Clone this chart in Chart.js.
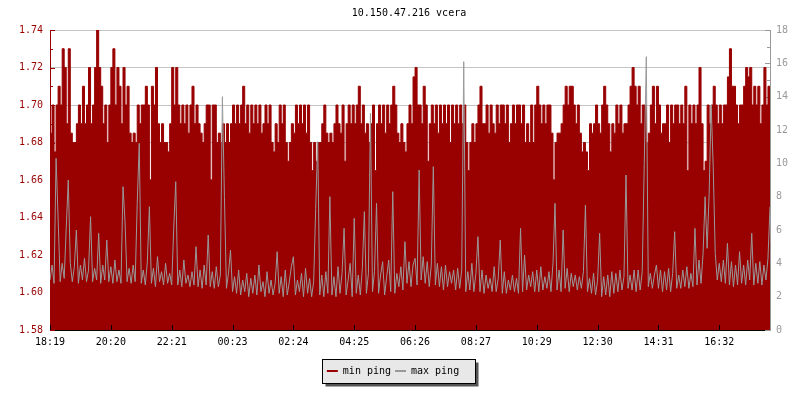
<!DOCTYPE html>
<html>
<head>
<meta charset="utf-8">
<title>10.150.47.216 vcera</title>
<script src="https://cdn.jsdelivr.net/npm/chart.js@4/dist/chart.umd.min.js"></script>
<style>
    html, body { margin: 0; padding: 0; background: #fff; }
    #chart { display: block; }
</style>
</head>
<body>
<canvas id="chart" width="800" height="400"></canvas>
<script>
// x tick labels, one every TICK_EVERY samples (about 4 min per sample)
const tickLabels = ["18:19", "20:20", "22:21", "00:23", "02:24", "04:25",
    "06:26", "08:27", "10:29", "12:30", "14:31", "16:32"];
const TICK_EVERY = 30;

// min ping, left axis
const minPing = [
    1.685, 1.70, 1.675, 1.70, 1.71, 1.70, 1.73, 1.72, 1.69, 1.73,
    1.685, 1.68, 1.68, 1.69, 1.70, 1.69, 1.71, 1.69, 1.70, 1.72,
    1.69, 1.70, 1.72, 1.74, 1.72, 1.71, 1.69, 1.70, 1.68, 1.70,
    1.72, 1.73, 1.70, 1.72, 1.71, 1.69, 1.72, 1.70, 1.71, 1.685,
    1.68, 1.685, 1.68, 1.70, 1.69, 1.70, 1.70, 1.71, 1.70, 1.66,
    1.71, 1.70, 1.72, 1.69, 1.68, 1.69, 1.68, 1.68, 1.675, 1.69,
    1.72, 1.70, 1.72, 1.70, 1.69, 1.70, 1.69, 1.70, 1.685, 1.70,
    1.71, 1.69, 1.70, 1.69, 1.685, 1.68, 1.69, 1.70, 1.70, 1.66,
    1.70, 1.70, 1.68, 1.685, 1.68, 1.69, 1.68, 1.69, 1.68, 1.69,
    1.70, 1.69, 1.70, 1.69, 1.70, 1.71, 1.69, 1.70, 1.685, 1.70,
    1.69, 1.70, 1.69, 1.70, 1.685, 1.69, 1.70, 1.69, 1.70, 1.68,
    1.675, 1.69, 1.68, 1.70, 1.69, 1.70, 1.68, 1.67, 1.68, 1.69,
    1.685, 1.70, 1.69, 1.70, 1.69, 1.70, 1.685, 1.70, 1.68, 1.665,
    1.68, 1.67, 1.68, 1.68, 1.69, 1.70, 1.685, 1.68, 1.685, 1.68,
    1.69, 1.70, 1.69, 1.685, 1.70, 1.67, 1.69, 1.70, 1.69, 1.70,
    1.69, 1.70, 1.71, 1.69, 1.70, 1.685, 1.69, 1.68, 1.69, 1.70,
    1.665, 1.69, 1.70, 1.69, 1.70, 1.685, 1.70, 1.69, 1.70, 1.71,
    1.70, 1.685, 1.68, 1.69, 1.68, 1.675, 1.69, 1.70, 1.69, 1.715,
    1.72, 1.70, 1.70, 1.69, 1.71, 1.70, 1.67, 1.69, 1.70, 1.69,
    1.70, 1.685, 1.70, 1.69, 1.70, 1.69, 1.70, 1.68, 1.70, 1.69,
    1.70, 1.69, 1.70, 1.69, 1.70, 1.68, 1.665, 1.68, 1.69, 1.68,
    1.69, 1.70, 1.71, 1.69, 1.69, 1.70, 1.685, 1.70, 1.69, 1.685,
    1.70, 1.69, 1.70, 1.70, 1.69, 1.70, 1.68, 1.69, 1.70, 1.69,
    1.70, 1.70, 1.69, 1.70, 1.68, 1.69, 1.68, 1.70, 1.68, 1.70,
    1.71, 1.70, 1.69, 1.70, 1.69, 1.70, 1.70, 1.685, 1.66, 1.68,
    1.685, 1.685, 1.69, 1.70, 1.71, 1.70, 1.71, 1.71, 1.70, 1.69,
    1.70, 1.685, 1.675, 1.68, 1.675, 1.665, 1.69, 1.685, 1.69, 1.70,
    1.69, 1.685, 1.70, 1.71, 1.70, 1.69, 1.675, 1.69, 1.685, 1.70,
    1.69, 1.70, 1.685, 1.69, 1.69, 1.70, 1.71, 1.72, 1.71, 1.70,
    1.71, 1.69, 1.70, 1.70, 1.68, 1.685, 1.70, 1.71, 1.69, 1.71,
    1.70, 1.685, 1.69, 1.69, 1.70, 1.68, 1.70, 1.69, 1.70, 1.70,
    1.69, 1.70, 1.69, 1.71, 1.665, 1.70, 1.69, 1.70, 1.69, 1.70,
    1.72, 1.69, 1.665, 1.67, 1.70, 1.69, 1.70, 1.71, 1.70, 1.69,
    1.70, 1.69, 1.70, 1.70, 1.715, 1.73, 1.71, 1.71, 1.70, 1.69,
    1.70, 1.70, 1.71, 1.72, 1.715, 1.72, 1.70, 1.71, 1.70, 1.71,
    1.69, 1.70, 1.72, 1.70, 1.71, 1.70
];

// max ping, right axis
const maxPing = [
    3.0, 3.9, 2.8, 10.3, 6.7, 2.9, 4.0, 3.1, 6.1, 9.0,
    4.0, 2.9, 3.8, 6.0, 2.8, 3.9, 3.0, 4.3, 2.9, 3.6,
    6.8, 2.9, 3.7, 3.0, 5.8, 2.8, 3.9, 3.0, 5.4, 2.9,
    3.8, 2.8, 4.2, 2.9, 3.6, 2.8, 8.6, 6.5, 2.9, 3.7,
    2.8, 3.9, 2.9, 7.6, 11.2, 2.8, 3.6, 2.7, 4.1, 7.4,
    2.8, 3.7, 2.6, 4.4, 2.9, 3.5, 2.7, 4.0, 2.8, 3.4,
    2.7, 6.1, 8.9, 2.7, 3.6, 2.6, 4.2, 2.8, 3.3, 2.6,
    3.5, 2.7, 5.0, 2.6, 3.6, 2.5, 3.9, 2.7, 5.7, 2.6,
    3.5, 2.5, 3.8, 2.6, 3.3, 14.0, 8.0, 2.5, 3.4, 4.8,
    2.3, 3.2, 2.2, 3.6, 2.1, 3.0, 2.3, 3.4, 2.0, 3.1,
    2.2, 3.3, 2.1, 3.9, 2.3, 2.9, 2.0, 3.5, 2.2, 3.0,
    2.1, 2.8, 4.7, 2.2, 3.2, 2.0, 3.6, 2.1, 2.9, 3.8,
    4.4, 2.1, 3.0, 2.3, 3.4, 2.0, 3.7, 2.2, 3.1, 2.0,
    2.9, 7.3, 11.3, 2.1, 3.3, 2.0, 3.5, 2.2, 8.0, 2.1,
    3.2, 2.0, 3.8, 2.2, 3.4, 6.1, 2.1, 3.0, 4.0, 2.0,
    6.7, 2.2, 3.3, 2.1, 3.7, 7.1, 2.2, 3.4, 13.0, 2.3,
    3.5, 7.6, 2.2, 3.3, 4.1, 2.1, 3.2, 4.2, 2.3, 8.3,
    2.2, 3.4, 2.6, 3.8, 2.4, 5.3, 2.8, 4.1, 2.6, 3.9,
    4.3, 2.7, 9.6, 3.0, 4.4, 2.8, 4.1, 2.6, 3.9, 9.8,
    2.7, 4.0, 2.6, 3.8, 2.4, 3.9, 2.6, 3.5, 2.8, 3.6,
    2.4, 3.7, 2.5, 3.6, 16.1, 2.3, 3.5, 2.4, 4.0, 2.3,
    3.4, 5.6, 2.3, 3.6, 2.2, 3.3, 2.5, 3.1, 2.3, 3.8,
    2.3, 3.1, 5.4, 2.2, 3.5, 2.2, 3.0, 2.4, 3.3, 2.3,
    3.1, 2.2, 6.1, 2.3, 4.5, 2.4, 3.3, 2.6, 3.5, 2.3,
    3.6, 2.3, 3.8, 2.4, 3.2, 2.5, 3.5, 2.3, 4.0, 7.6,
    2.4, 3.6, 2.3, 6.0, 2.5, 3.7, 2.3, 3.4, 2.6, 3.3,
    2.4, 3.2, 2.5, 3.5, 7.5, 2.3, 3.1, 2.2, 3.4, 2.1,
    3.0, 5.8, 2.0, 3.2, 2.1, 3.3, 2.0, 3.5, 2.2, 3.4,
    2.3, 3.6, 2.4, 3.2, 9.3, 2.5, 3.3, 2.4, 3.6, 2.3,
    3.6, 2.4, 3.5, 10.0, 16.4, 2.6, 3.4, 2.5, 3.3, 3.9,
    2.5, 3.6, 2.3, 3.5, 2.4, 3.7, 2.3, 3.4, 5.9, 2.5,
    3.3, 2.5, 3.6, 2.6, 3.8, 2.5, 3.4, 2.6, 6.1, 2.7,
    4.2, 2.8, 4.6, 8.0, 4.9, 8.2, 13.5, 9.8, 4.6, 3.0,
    4.0, 2.9, 4.2, 2.8, 5.2, 2.7, 4.1, 2.6, 3.9, 2.7,
    4.7, 2.8, 3.9, 2.7, 4.2, 3.0, 5.8, 2.7, 4.0, 2.8,
    4.1, 2.7, 3.9, 3.0, 4.3, 7.4
];

const RED = "#990000";
const GREY = "#999999";
const MONO = "'DejaVu Sans Mono', monospace";

Chart.defaults.font.family = MONO;
Chart.defaults.font.size = 10;
Chart.defaults.color = "#000";

const isMajorLeft = (v) => Math.round(v * 100) % 2 === 0;
const isMajorRight = (v) => Math.round(v) % 2 === 0;

// tick marks point into the plot, like the original rrd style
const insideTicks = {
    id: "insideTicks",
    beforeDatasetsDraw(chart) {
        const { ctx, chartArea: a, scales: { y, y1 } } = chart;
        ctx.save();
        ctx.lineWidth = 1;
        ctx.strokeStyle = RED;
        y.ticks.forEach(t => {
            const py = Math.round(y.getPixelForValue(t.value)) + 0.5;
            const len = isMajorLeft(t.value) ? 5 : 3;
            ctx.beginPath(); ctx.moveTo(a.left, py); ctx.lineTo(a.left + len, py); ctx.stroke();
        });
        ctx.strokeStyle = GREY;
        y1.ticks.forEach(t => {
            const py = Math.round(y1.getPixelForValue(t.value)) + 0.5;
            const len = isMajorRight(t.value) ? 5 : 3;
            ctx.beginPath(); ctx.moveTo(a.right, py); ctx.lineTo(a.right - len, py); ctx.stroke();
        });
        ctx.restore();
    },
    afterDatasetsDraw(chart) {
        const { ctx, chartArea: a, scales: { x } } = chart;
        ctx.save();
        ctx.lineWidth = 1;
        ctx.strokeStyle = "#000";
        x.ticks.forEach(t => {
            const px = Math.round(x.getPixelForValue(t.value)) + 0.5;
            ctx.beginPath(); ctx.moveTo(px, a.bottom); ctx.lineTo(px, a.bottom - 5); ctx.stroke();
        });
        ctx.restore();
    }
};

// legend sits a bit left of centre, inside a grey box with a drop shadow
const LEGEND_SHIFT = -16;
const legendBox = {
    id: "legendBox",
    afterLayout(chart) {
        chart.legend.left += LEGEND_SHIFT;
        chart.legend.right += LEGEND_SHIFT;
    },
    beforeDraw(chart) {
        const hb = chart.legend.legendHitBoxes;
        if (!hb || !hb.length) return;
        const first = hb[0], last = hb[hb.length - 1];
        const cy = first.top + first.height / 2;
        const l = Math.round(first.left - 5) + 0.5;
        const r = Math.round(last.left + last.width + 16) + 0.5;
        const t = Math.round(cy - 12) + 0.5, b = Math.round(cy + 12) + 0.5;
        const { ctx } = chart;
        ctx.save();
        ctx.fillStyle = "#555";
        ctx.fillRect(l + 3, t + 3, r - l, b - t);
        ctx.fillStyle = "#e8e8e8";
        ctx.fillRect(l, t, r - l, b - t);
        ctx.strokeStyle = "#000";
        ctx.lineWidth = 1;
        ctx.strokeRect(l, t, r - l, b - t);
        ctx.restore();
    }
};

const toPoints = (arr) => arr.map((v, i) => ({ x: i, y: v }));

new Chart(document.getElementById("chart"), {
    type: "line",
    data: {
        datasets: [
            {
                label: "min ping",
                data: toPoints(minPing),
                yAxisID: "y",
                borderColor: RED,
                backgroundColor: RED,
                borderWidth: 1,
                fill: "start",
                stepped: true,
                pointRadius: 0,
                order: 2
            },
            {
                label: "max ping",
                data: toPoints(maxPing),
                yAxisID: "y1",
                borderColor: GREY,
                backgroundColor: GREY,
                borderWidth: 1,
                fill: false,
                pointRadius: 0,
                tension: 0,
                order: 1
            }
        ]
    },
    options: {
        responsive: false,
        animation: false,
        devicePixelRatio: 1,
        layout: { padding: { left: 18, bottom: 14 } },
        scales: {
            x: {
                type: "linear",
                min: 0,
                max: minPing.length - 1,
                afterBuildTicks: (s) => { s.ticks = s.ticks.filter(t => t.value % TICK_EVERY === 0); },
                afterFit: (s) => { s.height = 32; },
                ticks: {
                    stepSize: TICK_EVERY,
                    maxTicksLimit: 20,
                    autoSkip: false,
                    maxRotation: 0,
                    padding: 6,
                    color: "#000",
                    callback: (v) => tickLabels[v / TICK_EVERY]
                },
                grid: { color: "rgba(0,0,0,0)", drawTicks: false, drawOnChartArea: false },
                border: { color: "#000" }
            },
            y: {
                position: "left",
                min: 1.58,
                max: 1.74,
                afterFit: (s) => { s.width = 32; },
                ticks: {
                    stepSize: 0.01,
                    maxTicksLimit: 100,
                    autoSkip: false,
                    padding: 7,
                    color: RED,
                    callback: (v) => isMajorLeft(v) ? v.toFixed(2) : ""
                },
                grid: {
                    drawTicks: false,
                    color: (c) => isMajorLeft(c.tick.value) ? "#c4c4c4" : "rgba(0,0,0,0)"
                },
                border: { color: RED }
            },
            y1: {
                position: "right",
                min: 0,
                max: 18,
                afterFit: (s) => { s.width = 30; },
                ticks: {
                    stepSize: 1,
                    maxTicksLimit: 100,
                    autoSkip: false,
                    padding: 6,
                    color: GREY,
                    callback: (v) => isMajorRight(v) ? String(v) : ""
                },
                grid: { drawTicks: false, drawOnChartArea: false, color: "rgba(0,0,0,0)" },
                border: { color: GREY }
            }
        },
        plugins: {
            title: {
                display: true,
                text: "10.150.47.216 vcera",
                color: "#000",
                font: { family: MONO, size: 10, weight: "normal" },
                padding: { top: 7, bottom: 11 }
            },
            legend: {
                position: "bottom",
                labels: {
                    boxWidth: 11,
                    boxHeight: 2,
                    padding: 4,
                    color: "#000",
                    font: { family: MONO, size: 10 },
                    sort: (a, b) => a.datasetIndex - b.datasetIndex,
                    generateLabels: (chart) =>
                        Chart.defaults.plugins.legend.labels.generateLabels(chart)
                            .map(l => ({ ...l, lineWidth: 0 }))
                }
            },
            tooltip: { enabled: false }
        }
    },
    plugins: [insideTicks, legendBox]
});
</script>
</body>
</html>
